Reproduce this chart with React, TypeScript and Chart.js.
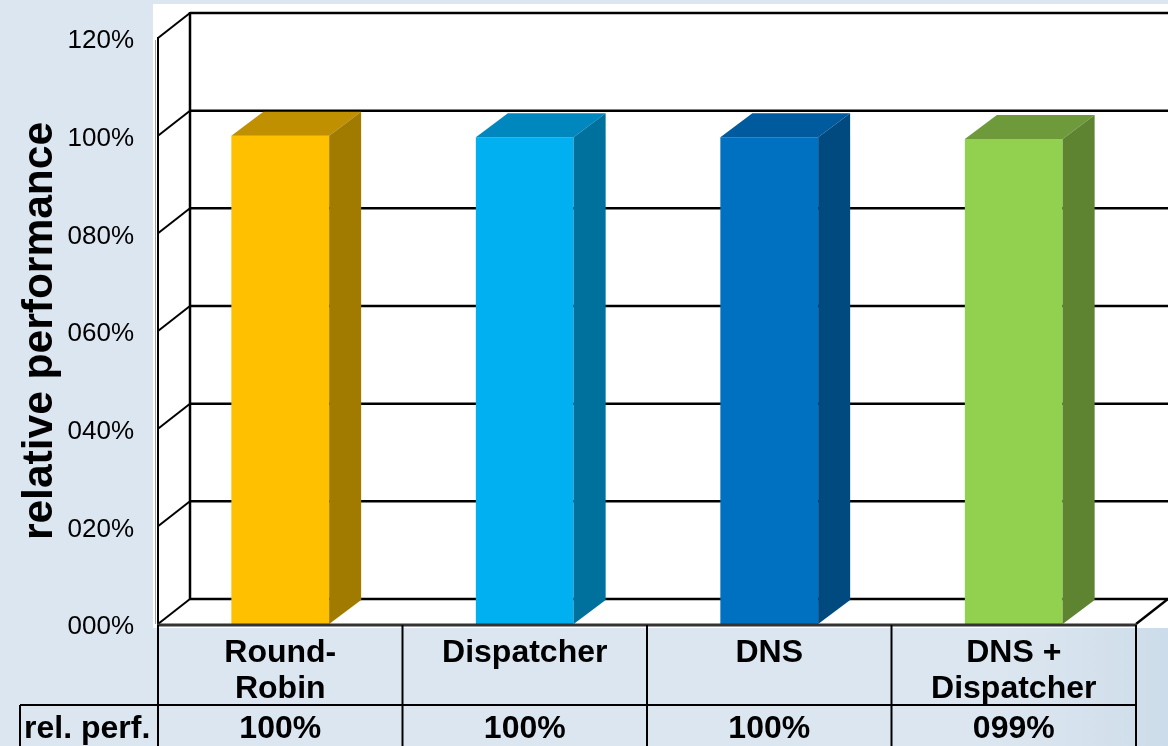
import { useEffect, useRef } from "react";
import { Chart, registerables } from "chart.js";

Chart.register(...registerables);

// ---- data ----
const categories: string[][] = [["Round-", "Robin"], ["Dispatcher"], ["DNS"], ["DNS +", "Dispatcher"]];
const relPerf: number[] = [1.0, 0.997, 0.997, 0.993];
const yTicks: number[] = [0, 0.2, 0.4, 0.6, 0.8, 1.0, 1.2];
const tableRowLabel = "rel. perf.";
const axisTitle = "relative performance";

// ---- styles ----
const frontColors = ["#FFC000", "#00B0F0", "#0070C0", "#92D050"];
const topColors = ["#C09000", "#0088BE", "#005B9E", "#6F9A3C"];
const sideColors = ["#A07B00", "#00709C", "#004A7F", "#5E8431"];

const W = 1168;
const H = 746;
const WALL_DX = 32;
const WALL_DY = -25;
const BAR_DX = 32;
const BAR_DY = -24;
const FONT = '"Liberation Sans", Arial, sans-serif';
const BG = "#DCE6F0";

const fmt = (v: number) => String(Math.round(v * 100)).padStart(3, "0") + "%";

const threeDPlugin = {
  id: "threeD",
  beforeDraw(chart: any) {
    const ctx: CanvasRenderingContext2D = chart.ctx;
    const ys = chart.scales.y;
    const { left, right } = chart.chartArea;
    ctx.save();
    // background
    ctx.fillStyle = BG;
    ctx.fillRect(0, 0, W, H);
    const g = ctx.createLinearGradient(990, 0, W, 0);
    g.addColorStop(0, "rgba(210,223,235,0)");
    g.addColorStop(1, "rgba(205,220,234,1)");
    ctx.fillStyle = g;
    ctx.fillRect(990, 628, W - 990, H - 628);
    // white plot region
    ctx.fillStyle = "#FFFFFF";
    ctx.fillRect(153, 4, W - 153, 628 - 4);

    const y0 = ys.getPixelForValue(0);
    const yTop = ys.getPixelForValue(yTicks[yTicks.length - 1]);

    // back wall gridlines and side wall diagonals
    ctx.strokeStyle = "#000000";
    ctx.lineCap = "butt";
    for (const t of yTicks) {
      const yf = ys.getPixelForValue(t);
      const yb = yf + WALL_DY;
      ctx.lineWidth = 2.5;
      ctx.beginPath();
      ctx.moveTo(left + WALL_DX, yb);
      ctx.lineTo(W, yb);
      ctx.stroke();
      ctx.lineWidth = 2;
      ctx.beginPath();
      ctx.moveTo(left, yf);
      ctx.lineTo(left + WALL_DX, yb);
      ctx.stroke();
    }
    // back vertical
    ctx.lineWidth = 2.5;
    ctx.beginPath();
    ctx.moveTo(left + WALL_DX, yTop + WALL_DY - 1);
    ctx.lineTo(left + WALL_DX, y0 + WALL_DY + 1);
    ctx.stroke();
    // front vertical (shadow + edge)
    ctx.strokeStyle = "#A0A0A0";
    ctx.lineWidth = 1;
    ctx.beginPath();
    ctx.moveTo(155.5, yTop + 2);
    ctx.lineTo(155.5, y0);
    ctx.stroke();
    ctx.strokeStyle = "#000000";
    ctx.lineWidth = 2;
    ctx.beginPath();
    ctx.moveTo(left, yTop - 1);
    ctx.lineTo(left, y0);
    ctx.stroke();
    // right floor diagonal
    ctx.lineWidth = 2.5;
    ctx.beginPath();
    ctx.moveTo(right, y0);
    ctx.lineTo(right + WALL_DX, y0 + WALL_DY);
    ctx.stroke();

    // tick labels
    ctx.fillStyle = "#000000";
    ctx.font = `26px ${FONT}`;
    ctx.textAlign = "right";
    ctx.textBaseline = "middle";
    for (const t of yTicks) {
      const yf = ys.getPixelForValue(t);
      ctx.fillText(fmt(t), 134, yf + 3);
    }
    // axis title
    ctx.save();
    ctx.translate(40, 331);
    ctx.rotate(-Math.PI / 2);
    ctx.font = `bold 42.5px ${FONT}`;
    ctx.textAlign = "center";
    ctx.textBaseline = "middle";
    ctx.fillText(axisTitle, 0, 0);
    ctx.restore();
    ctx.restore();
  },
  afterDatasetsDraw(chart: any) {
    const ctx: CanvasRenderingContext2D = chart.ctx;
    const meta = chart.getDatasetMeta(0);
    const ys = chart.scales.y;
    const { left, right } = chart.chartArea;
    const y0 = ys.getPixelForValue(0);
    ctx.save();
    meta.data.forEach((bar: any, i: number) => {
      const { x, y, width, base } = bar.getProps(["x", "y", "width", "base"], true);
      const L = x - width / 2;
      const R = x + width / 2;
      // top face
      ctx.fillStyle = topColors[i];
      ctx.beginPath();
      ctx.moveTo(L, y);
      ctx.lineTo(L + BAR_DX, y + BAR_DY);
      ctx.lineTo(R + BAR_DX, y + BAR_DY);
      ctx.lineTo(R, y);
      ctx.closePath();
      ctx.fill();
      // side face
      ctx.fillStyle = sideColors[i];
      ctx.beginPath();
      ctx.moveTo(R, y);
      ctx.lineTo(R + BAR_DX, y + BAR_DY);
      ctx.lineTo(R + BAR_DX, base + BAR_DY);
      ctx.lineTo(R, base);
      ctx.closePath();
      ctx.fill();
    });
    // floor front edge
    ctx.strokeStyle = "#333333";
    ctx.lineWidth = 3;
    ctx.beginPath();
    ctx.moveTo(left - 1, y0 + 1);
    ctx.lineTo(right + 1, y0 + 1);
    ctx.stroke();
    ctx.restore();
  },
  afterDraw(chart: any) {
    const ctx: CanvasRenderingContext2D = chart.ctx;
    const xs = chart.scales.x;
    const ys = chart.scales.y;
    const { left, right } = chart.chartArea;
    const y0 = ys.getPixelForValue(0);
    const n = categories.length;
    const colW = (right - left) / n;
    const rowY = 705;
    ctx.save();
    ctx.strokeStyle = "#000000";
    ctx.lineWidth = 2;
    // verticals
    for (let i = 0; i <= n; i++) {
      const xx = left + i * colW;
      ctx.beginPath();
      ctx.moveTo(xx, y0 + 1);
      ctx.lineTo(xx, H);
      ctx.stroke();
    }
    ctx.beginPath();
    ctx.moveTo(20, rowY);
    ctx.lineTo(20, H);
    ctx.stroke();
    // row line
    ctx.beginPath();
    ctx.moveTo(20, rowY);
    ctx.lineTo(right, rowY);
    ctx.stroke();

    ctx.fillStyle = "#000000";
    ctx.font = `bold 32px ${FONT}`;
    ctx.textAlign = "center";
    ctx.textBaseline = "middle";
    categories.forEach((lines, i) => {
      const cx = xs.getPixelForValue(i);
      lines.forEach((ln, j) => ctx.fillText(ln, cx, 653 + j * 36));
      ctx.fillText(fmt(relPerf[i]), cx, 729);
    });
    ctx.textAlign = "left";
    ctx.fillText(tableRowLabel, 24, 729);
    ctx.restore();
  },
};

export default function App() {
  const ref = useRef<HTMLCanvasElement | null>(null);
  useEffect(() => {
    document.body.style.margin = "0";
    if (!ref.current) return;
    const chart = new Chart(ref.current, {
      type: "bar",
      data: {
        labels: categories,
        datasets: [
          {
            data: relPerf,
            backgroundColor: frontColors,
            borderWidth: 0,
            barPercentage: 0.4,
            categoryPercentage: 1,
          },
        ],
      },
      options: {
        responsive: false,
        maintainAspectRatio: false,
        animation: false,
        devicePixelRatio: 1,
        layout: { padding: { left: 158, right: 32, top: 38, bottom: 122 } },
        plugins: { legend: { display: false }, tooltip: { enabled: false }, title: { display: false } },
        scales: {
          x: { display: false, offset: true },
          y: { display: false, min: 0, max: 1.2 },
        },
      },
      plugins: [threeDPlugin],
    });
    return () => chart.destroy();
  }, []);
  return (
    <div style={{ position: "fixed", left: 0, top: 0, width: W, height: H }}>
      <canvas ref={ref} width={W} height={H} style={{ display: "block", width: W, height: H }} />
    </div>
  );
}
